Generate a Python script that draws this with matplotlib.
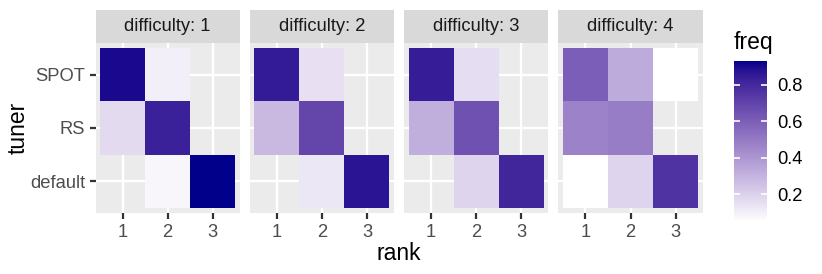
import numpy as np
import matplotlib
matplotlib.use("Agg")
import matplotlib.pyplot as plt
from matplotlib.colors import ListedColormap, Normalize

plt.rcParams['font.family'] = ['Liberation Sans', 'DejaVu Sans']

# data (NaN = no tile)
tuners = ["SPOT", "RS", "default"]          # top to bottom
ranks = [1, 2, 3]
difficulties = [1, 2, 3, 4]
nan = np.nan
# rows follow `tuners`, columns follow `ranks`
freq_d1 = [[0.90, 0.10, nan], [0.17, 0.83, nan], [nan, 0.08, 0.93]]
freq_d2 = [[0.85, 0.15, nan], [0.28, 0.69, nan], [nan, 0.13, 0.87]]
freq_d3 = [[0.84, 0.16, nan], [0.32, 0.65, nan], [nan, 0.19, 0.81]]
freq_d4 = [[0.60, 0.33, 0.048], [0.47, 0.49, nan], [0.048, 0.19, 0.76]]
freqs = [freq_d1, freq_d2, freq_d3, freq_d4]


# ggplot-style gradient: white -> darkblue interpolated in CIELAB
def to_lab(rgb):
    c = np.asarray(rgb, float)
    lin = np.where(c <= 0.04045, c / 12.92, ((c + 0.055) / 1.055) ** 2.4)
    M = np.array([[0.4124, 0.3576, 0.1805], [0.2126, 0.7152, 0.0722], [0.0193, 0.1192, 0.9505]])
    xyz = M @ lin / np.array([0.95047, 1.0, 1.08883])
    f = np.where(xyz > 0.008856, np.cbrt(xyz), 7.787 * xyz + 16 / 116)
    return np.array([116 * f[1] - 16, 500 * (f[0] - f[1]), 200 * (f[1] - f[2])])


def from_lab(lab):
    L, a, b = lab
    fy = (L + 16) / 116
    fx = fy + a / 500
    fz = fy - b / 200
    f = np.array([fx, fy, fz])
    xyz = np.where(f ** 3 > 0.008856, f ** 3, (f - 16 / 116) / 7.787) * np.array([0.95047, 1.0, 1.08883])
    Minv = np.linalg.inv(np.array([[0.4124, 0.3576, 0.1805], [0.2126, 0.7152, 0.0722], [0.0193, 0.1192, 0.9505]]))
    lin = np.clip(Minv @ xyz, 0, 1)
    c = np.where(lin <= 0.0031308, 12.92 * lin, 1.055 * lin ** (1 / 2.4) - 0.055)
    return np.clip(c, 0, 1)


lo = to_lab([1, 1, 1])
hi = to_lab([0, 0, 139 / 255])
cmap = ListedColormap([from_lab(lo + t * (hi - lo)) for t in np.linspace(0, 1, 256)])
vmin = np.nanmin(np.array(freqs))
vmax = np.nanmax(np.array(freqs))
norm = Normalize(vmin, vmax)

W, H = 822, 274
fig = plt.figure(figsize=(W / 150, H / 150), dpi=150)


def box(x0, y0, x1, y1):
    return [x0 / W, 1 - y1 / H, (x1 - x0) / W, (y1 - y0) / H]


panel_x = [95.5, 249.8, 404.1, 558.4]
pw = 144.2
for i, d in enumerate(difficulties):
    x0 = panel_x[i]
    ax = fig.add_axes(box(x0, 42.7, x0 + pw, 213.3))
    ax.set_facecolor('#EBEBEB')
    ax.set_axisbelow(True)
    grid = np.array(freqs[i], float)[::-1]   # bottom row first
    ax.pcolormesh(np.arange(0.5, 4), np.arange(0.5, 4), np.ma.masked_invalid(grid),
                  cmap=cmap, norm=norm, edgecolors='none', antialiased=False)
    ax.set_xlim(0.4, 3.6)
    ax.set_ylim(0.4, 3.6)
    ax.set_xticks(range(1, 4))
    ax.set_xticklabels([str(r) for r in ranks])
    ax.set_yticks(range(1, 4))
    if i == 0:
        ax.set_yticklabels(tuners[::-1])
    else:
        ax.tick_params(axis='y', left=False, labelleft=False)
    ax.grid(True, color='white', linewidth=1.07)
    ax.tick_params(length=2.75, width=1.07, color='#333333', labelcolor='#4D4D4D',
                   labelsize=8.8, pad=2.2)
    for s in ax.spines.values():
        s.set_visible(False)

    st = fig.add_axes(box(x0, 10.3, x0 + pw, 42.7))
    st.set_facecolor('#D9D9D9')
    st.set_xticks([])
    st.set_yticks([])
    for s in st.spines.values():
        s.set_visible(False)
    st.text(0.5, 0.5, f"difficulty: {d}", ha='center', va='center',
            fontsize=8.8, color='#1A1A1A', transform=st.transAxes)

fig.text(18.5 / W, 1 - 128 / H, "tuner", rotation=90, ha='center', va='center', fontsize=11)
fig.text(399 / W, 1 - 260 / H, "rank", ha='center', va='baseline', fontsize=11)

# colour bar
cax = fig.add_axes(box(734, 61, 766.7, 222))
cb = fig.colorbar(plt.cm.ScalarMappable(norm=norm, cmap=cmap), cax=cax)
cb.outline.set_visible(False)
cb.set_ticks([0.2, 0.4, 0.6, 0.8])
cax.tick_params(axis='y', direction='in', length=2.9, width=0.8, color='white',
                left=True, right=True, labelsize=8.8, pad=5.1)
fig.text(734 / W, 1 - 49.5 / H, "freq", ha='left', va='baseline', fontsize=11)

fig.savefig('out.png', dpi=150)
